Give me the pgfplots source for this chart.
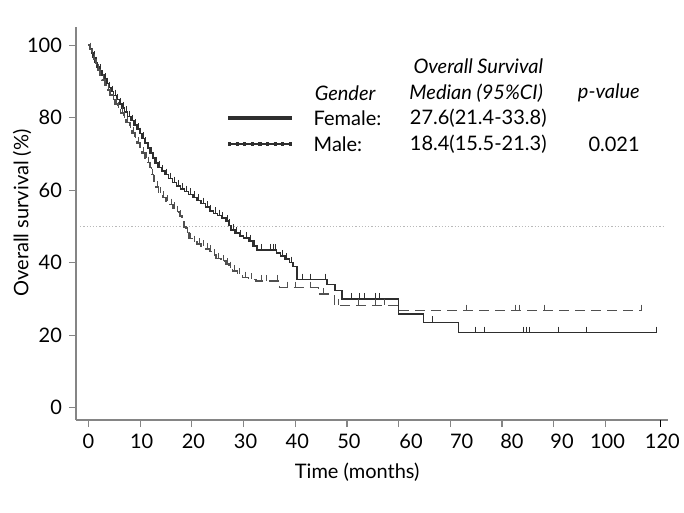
\documentclass[border=0pt]{standalone}
\usepackage{fontspec}
\setmainfont{Lato}
\usepackage{pgfplots}
\pgfplotsset{compat=1.18}
\definecolor{axisgray}{HTML}{858585}
\definecolor{femcol}{HTML}{2E2E2E}
\definecolor{malecol}{HTML}{505050}

\begin{document}
\begin{tikzpicture}
\begin{axis}[
    scale only axis,
    width=296pt, height=196.5pt,
    xmin=-2.4, xmax=112.1,
    ymin=-3.4, ymax=105,
    axis x line=bottom, axis y line=left,
    axis line style={-, draw=axisgray, line width=0.6pt},
    tick align=outside,
    major tick length=3.5pt,
    tick style={draw=axisgray, line width=0.6pt},
    xtick={0,10,...,100}, xticklabels={},
    extra x ticks={0,10.3,20.3,30.4,40.4,50.4,62.4,72.2,81.9,91.6,100.4,111},
    extra x tick labels={0,10,20,30,40,50,60,70,80,90,100,120},
    extra x tick style={major tick length=0pt, xticklabel style={yshift=-3.5pt}},
    ytick={0,20,...,100},
    /pgf/number format/assume math mode=true,
    tick label style={font=\fontsize{10}{12}\selectfont, text=black},
    label style={font=\fontsize{10}{12}\selectfont},
    xlabel={Time (months)},
    ylabel={Overall survival (\%)},
    xlabel style={at={(axis description cs:0.475,0)}, anchor=center, yshift=-26pt},
    ylabel style={at={(axis description cs:0,0.527)}, anchor=center, yshift=27pt},
    clip=false,
]

% median reference line
\addplot[densely dotted, gray!55, line width=0.6pt] coordinates {(-1.6,50) (111.6,50)};

% Female
\addplot[const plot, femcol, line width=0.75pt] coordinates {
(0,100) (0.3,99) (0.6,97.8) (0.9,96.6) (1.3,95.2) (1.7,94) (2.1,93) (2.6,91.8)
(3.0,90.6) (3.5,89.4) (3.9,88.3) (4.4,87.2) (4.9,86.1) (5.4,85) (6.0,83.8)
(6.5,82.7) (7.0,81.5) (7.6,80.3) (8.2,79.2) (8.8,78) (9.4,76.8) (9.9,75.6)
(10.4,74.3) (10.9,73) (11.4,71.6) (11.9,70.2) (12.4,68.8) (12.9,67.5)
(13.5,66.3) (14.1,65.3) (14.8,64.3) (15.5,63.2) (16.3,62.1) (17.0,61.2)
(17.8,60.3) (18.6,59.6) (19.4,58.8) (20.2,58.0) (21.0,57.2) (21.8,56.3)
(22.6,55.3) (23.4,54.3) (24.2,53.6) (25.0,53.0) (25.8,52.3) (26.6,51.5)
(27.1,50.3) (27.6,49.0) (28.4,48.2) (29.2,47.4) (30.0,46.8) (31.1,46.0)
(31.8,44.6) (32.6,43.5) (36.4,42.6) (37.2,41.9) (38.0,41.0) (38.9,40.0)
(39.6,39.0) (40.3,35.3) (46.1,34.0) (47.7,32.3) (49.0,30.0) (60.0,25.8)
(64.8,23.5) (71.6,20.7) (110.0,20.7)
};
\addplot[only marks, mark=|, mark size=1.5pt,
  mark options={yshift=1.5pt, line width=0.5pt, draw=femcol}] coordinates {
(0.45,99) (1.1,96.6) (1.5,95.2) (2.35,93) (3.25,90.6) (3.7,89.4) (4.15,88.3)
(4.65,87.2) (5.15,86.1) (5.7,85) (6.25,83.8) (6.75,82.7) (7.3,81.5) (7.9,80.3)
(8.5,79.2) (9.1,78) (9.65,76.8) (10.15,75.6) (10.65,74.3) (11.1,73) (11.65,71.6)
(12.15,70.2) (12.65,68.8) (13.2,67.5) (13.8,66.3) (14.4,65.3) (15.1,64.3)
(15.9,63.2) (16.6,62.1) (17.4,61.2) (18.2,60.3) (19.0,59.6) (19.8,58.8)
(20.6,58.0) (21.3,57.2) (22.2,56.3) (23.0,55.3) (23.7,54.3) (24.5,53.6)
(25.3,53) (26.0,52.3) (26.9,51.5) (27.35,50.3) (28.0,49.0) (28.7,48.2)
(29.5,47.4) (30.5,46.8) (31.4,46.0) (32.2,44.6) (33.5,43.5) (35.3,43.5)
(35.8,43.5) (36.2,43.5) (37.5,41.9) (38.4,41.0) (39.2,40.0)
(41.5,35.3) (42.9,35.3) (45.8,35.3) (50.8,30) (52.4,30)
(53.4,30) (55.6,30) (56.3,30) (66.6,23.5) (74.8,20.7) (76.7,20.7) (84.1,20.7)
(84.8,20.7) (85.4,20.7) (90.9,20.7) (96.4,20.7) (109.9,20.7)
};

% Male
\addplot[const plot, malecol, line width=0.75pt, dash pattern=on 5pt off 3pt] coordinates {
(0,100) (0.3,98.8) (0.6,97.5) (1.0,96) (1.4,94.5) (1.8,93.2) (2.2,91.8)
(2.6,90.4) (3.1,89) (3.6,87.6) (4.1,86.3) (4.6,85) (5.1,83.8) (5.6,82.6)
(6.2,81.3) (6.8,80) (7.3,78.6) (7.9,77.2) (8.4,75.8) (8.9,74.4) (9.4,73)
(9.9,71.6) (10.4,70.2) (10.9,68.8) (11.4,67.6) (11.8,66.2) (12.2,64.3)
(12.6,62.4) (13.0,60.8) (13.6,59.2) (14.3,58) (15.0,57) (15.7,56) (16.4,55)
(17.0,54) (17.6,52.8) (18.1,51.4) (18.5,49.8) (18.9,48.3) (19.5,46.6)
(20.2,45.8) (21.0,45.1) (21.8,44.5) (22.6,43.8) (23.4,43.1) (24.0,42.1)
(24.7,41.1) (25.6,40.4) (26.6,39.6) (27.2,38.6) (27.9,37.7) (28.8,36.8)
(29.8,35.9) (31.0,35.4) (32.4,35.0) (37.0,33.1) (44.5,31.3) (47.6,28.2)
(60.2,26.8) (107.0,26.8)
};
\addplot[only marks, mark=|, mark size=1.5pt,
  mark options={yshift=1.5pt, line width=0.5pt, draw=malecol}] coordinates {
(0.45,98.8) (0.8,97.5) (1.2,96) (1.6,94.5) (2.0,93.2) (2.4,91.8) (2.85,90.4)
(3.35,89) (3.85,87.6) (4.35,86.3) (4.85,85) (5.35,83.8) (5.9,82.6) (6.5,81.3)
(7.05,80) (7.6,78.6) (8.15,77.2) (8.65,75.8) (9.15,74.4) (9.65,73) (10.15,71.6)
(10.65,70.2) (11.15,68.8) (11.6,67.6) (12.0,66.2) (12.4,64.3) (12.8,62.4)
(13.3,60.8) (13.9,59.2) (14.6,58) (15.3,57) (16.0,56) (16.7,55) (17.3,54)
(17.85,52.8) (19.2,48.3) (19.8,46.6) (20.6,45.8) (21.4,45.1) (22.2,44.5)
(23.0,43.8) (23.7,43.1) (24.3,42.1) (25.2,41.1) (26.1,40.4) (26.9,39.6)
(27.5,38.6) (28.3,37.7) (29.3,36.8) (30.3,35.9) (31.6,35.4) (33.5,35) (34.5,35)
(36.6,35) (38.5,33.1) (40,33.1) (43,33.1) (45.5,31.3) (48.3,28.2) (52.2,28.2)
(55.5,28.2) (57.3,28.2) (73.1,26.8) (82.6,26.8) (83.4,26.8) (88.3,26.8) (107,26.8)
};

% last x tick, drawn black in the original
\draw[black, line width=0.6pt] (axis cs:110.7,-3.4) -- ([yshift=-3.5pt]axis cs:110.7,-3.4);

% legend block
\draw[femcol, line width=1.6pt] (axis cs:27.0,79.9) -- (axis cs:39.4,79.9);
\draw[femcol, line width=0.6pt] (axis cs:27.0,72.7) -- (axis cs:39.4,72.7);
\draw[femcol, line width=1.6pt, dash pattern=on 1.6pt off 2.2pt] (axis cs:27.0,72.7) -- (axis cs:39.4,72.7);
\begin{scope}[every node/.style={inner sep=0pt, font=\fontsize{10}{12}\selectfont}]
\node[anchor=center] at (axis cs:75.4,94.2) {\itshape Overall Survival};
\node[anchor=west] at (axis cs:43.7,86.8) {\itshape Gender};
\node[anchor=center] at (axis cs:75.0,86.8) {\itshape Median (95\%CI)};
\node[anchor=east] at (axis cs:106.7,86.8) {\itshape p-value};
\node[anchor=west] at (axis cs:43.5,79.9) {Female:};
\node[anchor=center] at (axis cs:75.4,79.9) {27.6(21.4-33.8)};
\node[anchor=west] at (axis cs:43.5,72.7) {Male:};
\node[anchor=center] at (axis cs:75.4,72.7) {18.4(15.5-21.3)};
\node[anchor=east] at (axis cs:106.7,72.7) {0.021};
\end{scope}
\end{axis}
\pgfresetboundingbox
\path[use as bounding box] ([xshift=-38pt,yshift=-46.5pt]current axis.south west)
  rectangle ([xshift=8pt,yshift=13.5pt]current axis.north east);
\end{tikzpicture}
\end{document}
